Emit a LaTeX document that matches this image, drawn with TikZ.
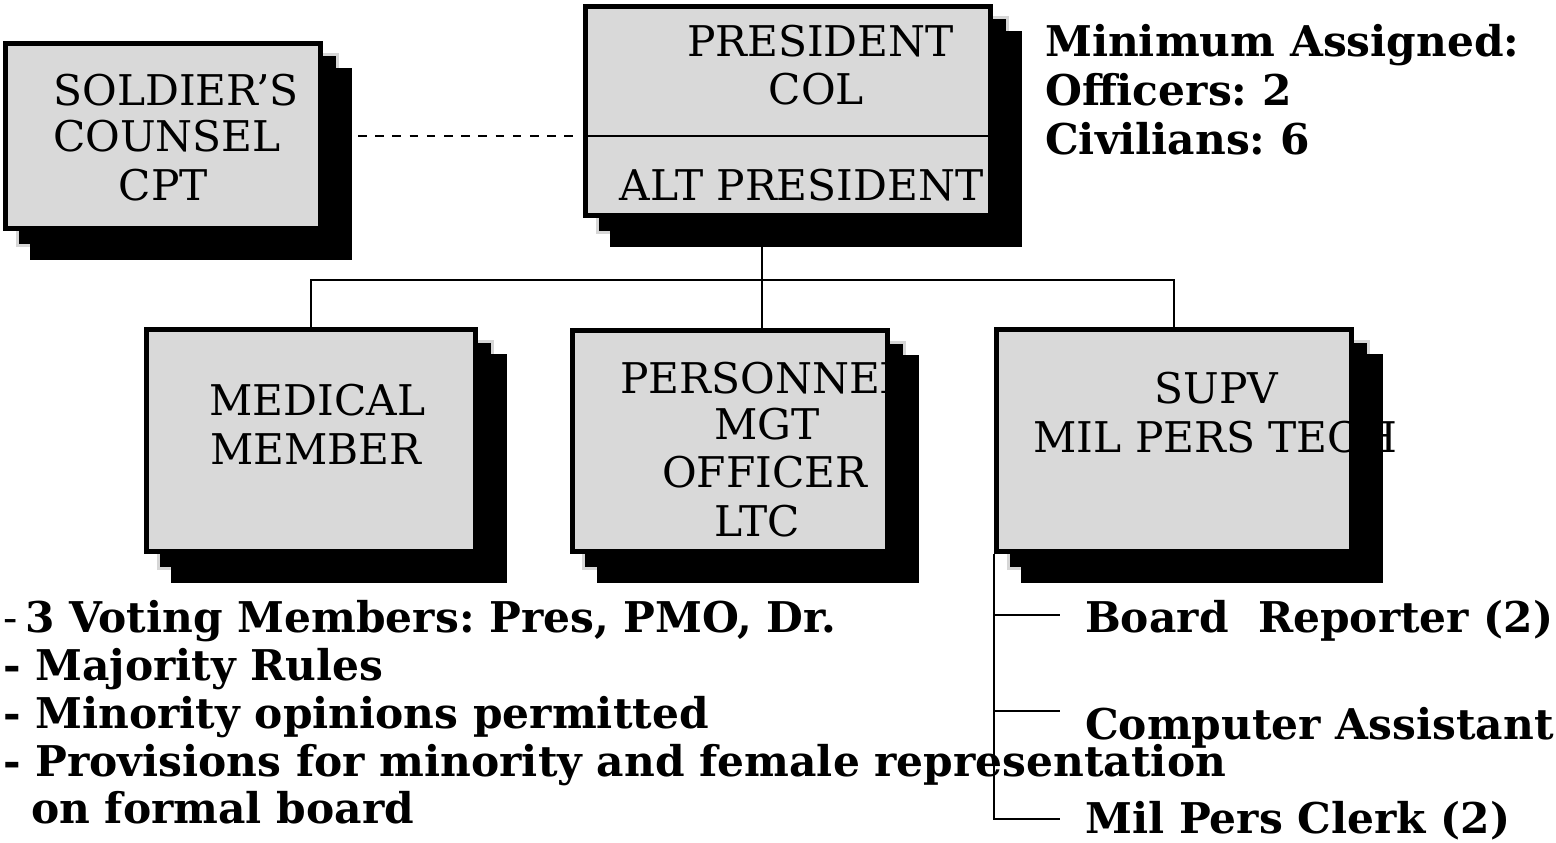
\documentclass[tikz,border=0pt]{standalone}
\usepackage{fontspec}
\setmainfont{DejaVu Serif}
\usetikzlibrary{backgrounds}
\frenchspacing
\definecolor{boxgray}{RGB}{217,217,217}
\definecolor{edgegray}{RGB}{214,214,214}
\tikzset{
  orgbox/.style={rectangle, draw=black, line width=5pt, fill=boxgray, inner sep=0pt},
  conn/.style={draw=black, line width=2pt},
  dashline/.style={draw=black, line width=2.5pt, dash pattern=on 8.5pt off 8.7pt},
  rtxt/.style={inner sep=0pt, anchor=base, font=\fontsize{42.3}{47}\selectfont},
  rtxtw/.style={inner sep=0pt, anchor=base west, font=\fontsize{42.3}{47}\selectfont},
  btxt/.style={inner sep=0pt, anchor=base west, font=\fontsize{42.35}{48}\selectfont\bfseries},
}
\newcommand{\shadowsof}[1]{%
  \begin{scope}[on background layer]
    \filldraw[fill=black, draw=edgegray, line width=3pt]
      ([shift={(14,14)}]#1.north west) rectangle ([shift={(14,14)}]#1.south east);
    \filldraw[fill=black, draw=black, line width=2pt]
      ([shift={(28,28)}]#1.north west) rectangle ([shift={(28,28)}]#1.south east);
  \end{scope}}
\begin{document}
\begin{tikzpicture}[x=1pt, y=-1pt]
\useasboundingbox (0,0) rectangle (1556,843);

% boxes
\node[orgbox, minimum width=315pt, minimum height=185pt] (soldier) at (163,136) {};
\node[orgbox, minimum width=405pt, minimum height=209pt] (pres) at (788,111) {};
\node[orgbox, minimum width=329pt, minimum height=222pt] (med) at (311,440.5) {};
\node[orgbox, minimum width=315.5pt, minimum height=221pt] (pers) at (729.75,441) {};
\node[orgbox, minimum width=355pt, minimum height=222pt] (supv) at (1174,440.5) {};
\shadowsof{soldier}
\shadowsof{pres}
\shadowsof{med}
\shadowsof{pers}
\shadowsof{supv}

% divider in president box
\coordinate (div) at (788,136);
\draw[line width=2.5pt] (pres.west |- div) -- (pres.east |- div);

% connectors
\coordinate (bus) at (762,280);
\draw[conn] (pres.south -| bus) -- (pers.north -| bus);
\draw[conn] (med.north) -- (med.north |- bus) -- (supv.north |- bus) -- (supv.north);
\draw[dashline] ([xshift=35pt]soldier.east) -- ([xshift=-5pt]soldier.east -| pres.west);

\coordinate (b1) at (1060,615.3);
\coordinate (b2) at (1060,711.3);
\coordinate (b3) at (1060,819.3);
\draw[conn] (supv.south west) -- (supv.south west |- b3) -- (b3);
\draw[conn] (supv.south west |- b1) -- (b1);
\draw[conn] (supv.south west |- b2) -- (b2);

% box texts
\node[rtxt] (s1) at (176,105) {SOLDIER’S};
\node[rtxt] (s2) at (167,151.7) {COUNSEL};
\node[rtxt] (s3) at (163.5,200) {CPT};

\node[rtxt] (p1) at (820.5,56.7) {PRESIDENT};
\node[rtxt] (p2) at (816.3,104) {COL};
\node[rtxt] (p3) at (801.7,200) {ALT PRESIDENT};

\node[rtxt] (m1) at (317.5,415.7) {MEDICAL};
\node[rtxt] (m2) at (315.8,464) {MEMBER};

\node[rtxtw] (o1) at (620,393.3) {PERSONNEL};
\node[rtxt] (o2) at (767,439.3) {MGT};
\node[rtxt] (o3) at (764.7,487.3) {OFFICER};
\node[rtxt] (o4) at (757.5,536) {LTC};

\node[rtxt] (v1) at (1216.3,403.3) {SUPV};
\node[rtxt] (v2) at (1215.3,452.3) {MIL PERS TECH};

% minimum assigned
\node[btxt] (n1) at (1045,57) {Minimum Assigned:};
\node[btxt] (n2) at (1045,106) {Officers: 2};
\node[btxt] (n3) at (1045,154) {Civilians: 6};

% notes
\node[btxt] (l1) at (3,632) {\mdseries-\hspace{8pt}\bfseries 3 Voting Members: Pres, PMO, Dr.};
\node[btxt] (l2) at (3,680) {- Majority Rules};
\node[btxt] (l3) at (3,728.3) {- Minority opinions permitted};
\node[btxt] (l4) at (3,776.7) {- Provisions for minority and female representation};
\node[btxt] (l5) at (31,823.3) {on formal board};

% staff
\node[btxt] (r1) at (1085,632) {Board\ \ Reporter (2)};
\node[btxt] (r2) at (1085,739.3) {Computer Assistant};
\node[btxt] (r3) at (1085,833) {Mil Pers Clerk (2)};
\end{tikzpicture}
\end{document}
